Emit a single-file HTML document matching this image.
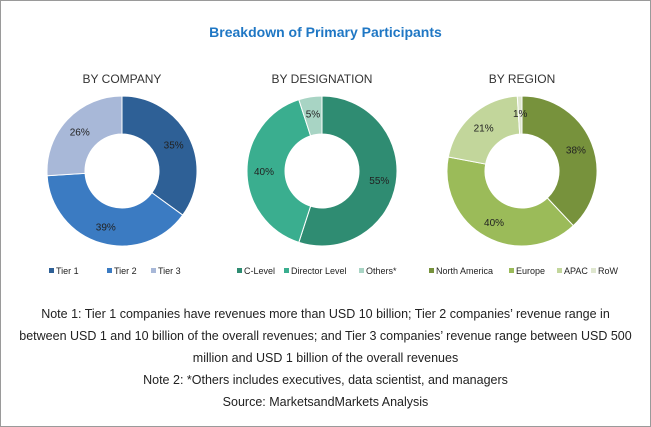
<!DOCTYPE html>
<html><head><meta charset="utf-8"><style>
body{margin:0;background:#fff;}
#wrap{position:relative;width:649px;height:425px;border:1px solid #9a9a9a;font-family:"Liberation Sans",sans-serif;overflow:hidden;}
.t{position:absolute;width:100%;text-align:center;}
</style></head><body>
<div id="wrap">
<div class="t" style="top:23px;font-size:14px;font-weight:bold;color:#1f77c4;">Breakdown of Primary Participants</div>
<svg id="svg" width="649" height="290" style="position:absolute;left:0;top:0"></svg>
<div class="t" style="top:302px;font-size:12.5px;line-height:22px;color:#222;">Note 1: Tier 1 companies have revenues more than USD 10 billion; Tier 2 companies’ revenue range in<br>between USD 1 and 10 billion of the overall revenues; and Tier 3 companies’ revenue range between USD 500<br>million and USD 1 billion of the overall revenues</div>
<div class="t" style="top:368px;font-size:12.5px;line-height:22px;color:#222;">Note 2: *Others includes executives, data scientist, and managers<br>Source: MarketsandMarkets Analysis</div>
</div>
<script>
const companyLabels=["Tier 1","Tier 2","Tier 3"];
const companyValues=[35,39,26];
const designationLabels=["C-Level","Director Level","Others*"];
const designationValues=[55,40,5];
const regionLabels=["North America","Europe","APAC","RoW"];
const regionValues=[38,40,21,1];
const charts=[
 {title:"BY COMPANY",cx:121,labels:companyLabels,values:companyValues,colors:["#2e6096","#3b7bc2","#a8b8d8"],legX:[48,106,150]},
 {title:"BY DESIGNATION",cx:321,labels:designationLabels,values:designationValues,colors:["#2f8c72","#3aae8f","#a8d4c4"],legX:[236,283,358]},
 {title:"BY REGION",cx:521,labels:regionLabels,values:regionValues,colors:["#77923c","#9bbb59","#c2d69b","#dfe7cf"],legX:[428,508,556,590]}
];
const NS="http://www.w3.org/2000/svg";
const svg=document.getElementById('svg');
const cy=170,R=75,r=37;
function mk(t,a){const e=document.createElementNS(NS,t);for(const k in a)e.setAttribute(k,a[k]);svg.appendChild(e);return e;}
charts.forEach((c,ci)=>{
 const tt=mk('text',{x:c.cx,y:82,'text-anchor':'middle','font-size':12,fill:'#333','font-family':'Liberation Sans, sans-serif'});
 tt.textContent=c.title;
 
 
 const tot=c.values.reduce((a,b)=>a+b,0);
 let a0=0;
 c.values.forEach((v,i)=>{
  const a1=a0+v/tot*2*Math.PI;
  const p=(a,rad)=>[c.cx+rad*Math.sin(a),cy-rad*Math.cos(a)];
  const [x0,y0]=p(a0,R),[x1,y1]=p(a1,R),[x2,y2]=p(a1,r),[x3,y3]=p(a0,r);
  const lg=(a1-a0)>Math.PI?1:0;
  const path=mk('path',{d:`M${x0},${y0}A${R},${R} 0 ${lg} 1 ${x1},${y1}L${x2},${y2}A${r},${r} 0 ${lg} 0 ${x3},${y3}Z`,fill:c.colors[i],stroke:'#fff','stroke-width':1});
  
  
  const am=(a0+a1)/2;const [lx,ly]=p(am,(R+r)/2+2);
  const lt=mk('text',{x:lx,y:ly+4,'text-anchor':'middle','font-size':10,fill:'#222','font-family':'Liberation Sans, sans-serif'});
  lt.textContent=v+'%';
  
  
  const lx0=c.legX[i];
  const sq=mk('rect',{x:lx0,y:267,width:5,height:5,fill:c.colors[i]});
  
  
  const le=mk('text',{x:lx0+7,y:273,'font-size':9,fill:'#222','font-family':'Liberation Sans, sans-serif'});
  le.textContent=c.labels[i];
  
  
  a0=a1;
 });
});
</script>
</body></html>
